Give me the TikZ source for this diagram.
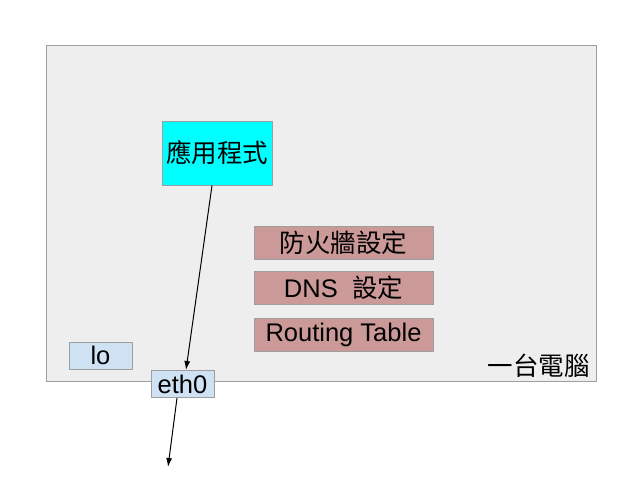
\documentclass[tikz,border=0pt]{standalone}
\usepackage{fontspec}
\setmainfont{Liberation Sans}
\newfontfamily\cjk{Noto Sans CJK TC}
\usetikzlibrary{arrows.meta}
\definecolor{pcbg}{HTML}{EEEEEE}
\definecolor{pcline}{HTML}{9E9E9E}
\definecolor{appfill}{HTML}{00FFFF}
\definecolor{cfgfill}{HTML}{CC9999}
\definecolor{nicfill}{HTML}{CFE2F3}

\begin{document}
\begin{tikzpicture}[
  x=1pt, y=-1pt,
  every node/.style={draw=pcline, line width=1pt, inner sep=0pt, align=center, font=\fontsize{25.5}{28}\selectfont},
  appbox/.style={fill=appfill, minimum width=110pt, minimum height=64pt},
  cfgbox/.style={fill=cfgfill, minimum width=179pt, minimum height=33pt},
  nicbox/.style={fill=nicfill, minimum width=63pt, minimum height=27pt},
  link/.style={draw, line width=1pt, -{Latex[length=9pt,width=6pt]}}
]
\useasboundingbox (0,0) rectangle (638,479);
\node[fill=pcbg, minimum width=550pt, minimum height=336pt] (pc) at (321,213) {};
\node[draw=none, anchor=south east] (pclabel) at (590,378) {\cjk 一台電腦};
\node[appbox] (app) at (217,153) {\cjk 應用程式};
\node[cfgbox] (fw) at (343.5,242.5) {\cjk 防火牆設定};
\node[cfgbox] (dns) at (343.5,288) {DNS~~{\cjk 設定}};
\node[cfgbox] (route) at (343.5,335) {Routing Table};
\node[nicbox] (lo) at (100.5,355.5) {lo};
\node[nicbox] (eth0) at (182.5,384) {eth0};
\coordinate (out) at (168,467);

\draw[link] ([xshift=-5pt]app.south) -- ([xshift=3.5pt]eth0.north);
\draw[link] ([xshift=-5.5pt]eth0.south) -- (out);
\end{tikzpicture}
\end{document}
